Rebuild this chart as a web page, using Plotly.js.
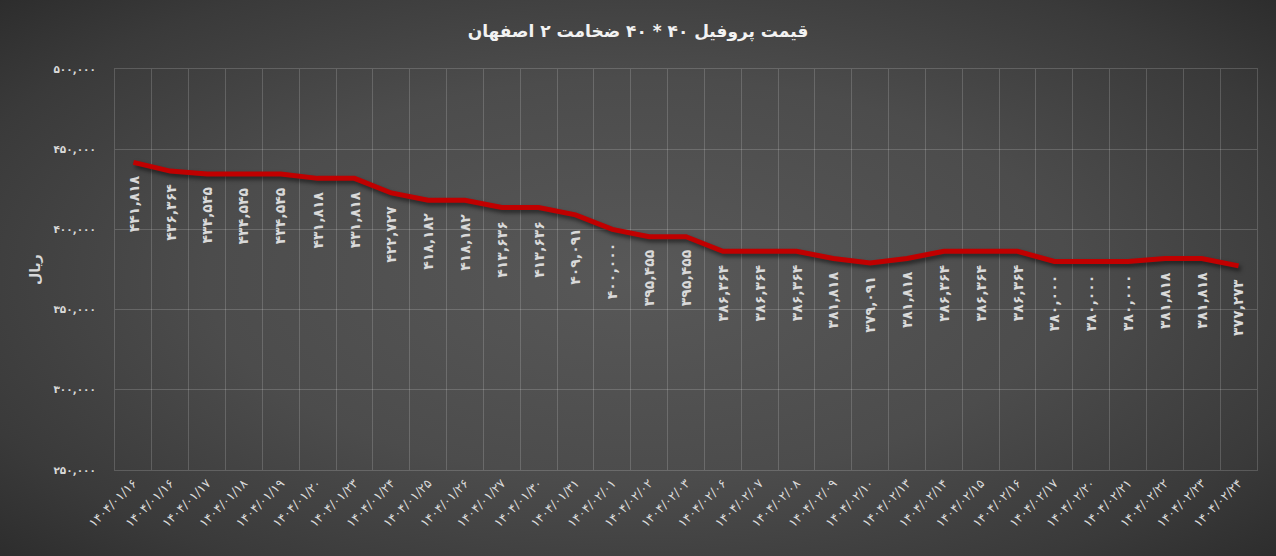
<!DOCTYPE html>
<html>
<head>
<meta charset="utf-8">
<script src="https://cdn.plot.ly/plotly-3.0.1.min.js"></script>
<style>
html, body { margin:0; padding:0; width:1276px; height:556px; overflow:hidden; }
body { background: radial-gradient(ellipse 75% 80% at 50% 50%, #585858 0%, #4c4c4c 45%, #3a3a3a 75%, #262626 100%); }
#chart { width:1276px; height:556px; }
#chart .scatterlayer .js-line { filter: drop-shadow(2px 3px 2px rgba(0,0,0,0.55)); }
</style>
</head>
<body>
<div id="chart"></div>
<script>
const chartTitle = 'قیمت پروفیل ۴۰ * ۴۰ ضخامت ۲ اصفهان';
const yAxisTitle = 'ریال';
const dates = [
  '۱۴۰۴/۰۱/۱۶','۱۴۰۴/۰۱/۱۶','۱۴۰۴/۰۱/۱۷','۱۴۰۴/۰۱/۱۸','۱۴۰۴/۰۱/۱۹','۱۴۰۴/۰۱/۲۰',
  '۱۴۰۴/۰۱/۲۳','۱۴۰۴/۰۱/۲۴','۱۴۰۴/۰۱/۲۵','۱۴۰۴/۰۱/۲۶','۱۴۰۴/۰۱/۲۷','۱۴۰۴/۰۱/۳۰',
  '۱۴۰۴/۰۱/۳۱','۱۴۰۴/۰۲/۰۱','۱۴۰۴/۰۲/۰۲','۱۴۰۴/۰۲/۰۳','۱۴۰۴/۰۲/۰۶','۱۴۰۴/۰۲/۰۷',
  '۱۴۰۴/۰۲/۰۸','۱۴۰۴/۰۲/۰۹','۱۴۰۴/۰۲/۱۰','۱۴۰۴/۰۲/۱۳','۱۴۰۴/۰۲/۱۴','۱۴۰۴/۰۲/۱۵',
  '۱۴۰۴/۰۲/۱۶','۱۴۰۴/۰۲/۱۷','۱۴۰۴/۰۲/۲۰','۱۴۰۴/۰۲/۲۱','۱۴۰۴/۰۲/۲۲','۱۴۰۴/۰۲/۲۳',
  '۱۴۰۴/۰۲/۲۴'
];
const prices = [
  441818, 436364, 434545, 434545, 434545, 431818, 431818, 422727, 418182, 418182,
  413636, 413636, 409091, 400000, 395455, 395455, 386364, 386364, 386364, 381818,
  379091, 381818, 386364, 386364, 386364, 380000, 380000, 380000, 381818, 381818,
  377273
];
const yTickValues = [250000, 300000, 350000, 400000, 450000, 500000];

function toPersian(n) {
  const s = n.toLocaleString('en-US');
  return s.replace(/[0-9]/g, d => '۰۱۲۳۴۵۶۷۸۹'[+d]);
}

const idx = dates.map((_, i) => i);
const labelFont = { family: 'DejaVu Sans', size: 14, color: '#d9d9d9' };

const trace = {
  x: idx, y: prices, type: 'scatter', mode: 'lines',
  line: { color: '#c00000', width: 5 },
  hoverinfo: 'skip'
};

const annotations = prices.map((v, i) => ({
  x: i, y: v, xref: 'x', yref: 'y',
  text: '<b>' + toPersian(v) + '</b>',
  textangle: -90, showarrow: false,
  xanchor: 'center', yanchor: 'top', yshift: -11,
  font: labelFont
}));

const gridColor = 'rgba(255,255,255,0.17)';

const layout = {
  width: 1276, height: 556,
  paper_bgcolor: 'rgba(0,0,0,0)', plot_bgcolor: 'rgba(0,0,0,0)',
  margin: { l: 115, r: 19, t: 69, b: 86 },
  showlegend: false,
  title: { text: '<b>' + chartTitle + '</b>', x: 0.5, xanchor: 'center', y: 0.945, yanchor: 'middle',
           font: { family: 'DejaVu Sans', size: 17, color: '#f2f2f2' } },
  xaxis: {
    type: 'linear', range: [-0.5, dates.length - 0.5],
    tickmode: 'array', tickvals: idx, ticktext: dates,
    tickangle: -45, ticks: '', showgrid: false, zeroline: false,
    tickfont: { family: 'DejaVu Sans', size: 12.5, color: '#d9d9d9' },
    showline: true, linecolor: gridColor, mirror: true,
    minor: { tickmode: 'linear', tick0: -0.5, dtick: 1, showgrid: true, gridcolor: gridColor, gridwidth: 1, ticks: '' }
  },
  yaxis: {
    range: [250000, 500000],
    tickmode: 'array', tickvals: yTickValues, ticktext: yTickValues.map(v => '<b>' + toPersian(v) + '</b>'),
    ticklabelstandoff: 16,
    tickfont: { family: 'DejaVu Sans', size: 10.5, color: '#d9d9d9' },
    showgrid: true, gridcolor: gridColor, zeroline: false,
    showline: true, linecolor: gridColor, mirror: true,
    title: { text: '<b>' + yAxisTitle + '</b>', standoff: 9, font: { family: 'DejaVu Sans', size: 14, color: '#d9d9d9' } }
  },
  annotations: annotations
};

Plotly.newPlot('chart', [trace], layout, { displayModeBar: false, staticPlot: true });
</script>
</body>
</html>
